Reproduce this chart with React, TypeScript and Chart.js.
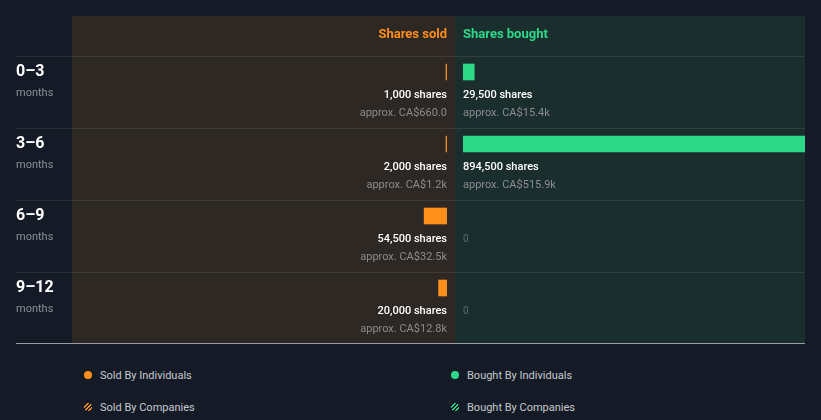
import React, { useEffect, useRef } from "react";
import { Chart, registerables } from "chart.js";

Chart.register(...registerables);

// ---- data ----
const periods = ["0–3", "3–6", "6–9", "9–12"];
const periodUnit = "months";
const soldShares = [1000, 2000, 54500, 20000];
const soldValueLabels = ["CA$660.0", "CA$1.2k", "CA$32.5k", "CA$12.8k"];
const boughtShares = [29500, 894500, 0, 0];
const boughtValueLabels = ["CA$15.4k", "CA$515.9k", "", ""];
const scaleMax = 894500;
const legendLabels = ["Sold By Individuals", "Bought By Individuals", "Sold By Companies", "Bought By Companies"];

// ---- style ----
const ORANGE = "#ff8f1a";
const GREEN = "#2ed889";
const PAGE_BG = "#151b26";
const SOLD_BG = "#2d2823";
const BOUGHT_BG = "#1b2e2e";
const FONT = "Roboto, 'Noto Sans', sans-serif";
const BAR_H = 16;

type Side = "sold" | "bought";

const panelPlugin = {
  id: "panel",
  beforeDraw(chart: any) {
    const opts = chart.options.plugins.panel;
    const side: Side = opts.side;
    const { ctx, chartArea, scales } = chart;
    ctx.save();
    const x0 = side === "sold" ? chartArea.left : 0;
    ctx.fillStyle = side === "sold" ? SOLD_BG : BOUGHT_BG;
    ctx.fillRect(x0, 0, chart.width - x0, chart.height);
    // row separators
    ctx.fillStyle = "rgba(255,255,255,0.09)";
    periods.forEach((_, i) => {
      const y = Math.round(scales.y.getPixelForValue(i) - BAR_H);
      ctx.fillRect(0, y, chart.width, 1);
    });
    // header
    const zeroX = scales.x.getPixelForValue(0);
    ctx.font = `bold 13px ${FONT}`;
    ctx.textBaseline = "middle";
    ctx.textAlign = side === "sold" ? "right" : "left";
    ctx.fillStyle = side === "sold" ? ORANGE : GREEN;
    ctx.fillText(opts.title, zeroX, 19);
    // row labels
    if (side === "sold") {
      ctx.textAlign = "left";
      periods.forEach((p, i) => {
        const cy = scales.y.getPixelForValue(i);
        ctx.font = `bold 16px ${FONT}`;
        ctx.fillStyle = "#ffffff";
        ctx.fillText(p, 0, cy);
        ctx.font = `11px ${FONT}`;
        ctx.fillStyle = "#8b9098";
        ctx.fillText(periodUnit, 0, cy + 21);
      });
    }
    ctx.restore();
  },
  afterDatasetsDraw(chart: any) {
    const opts = chart.options.plugins.panel;
    const side: Side = opts.side;
    const { ctx, scales } = chart;
    const values: number[] = opts.values;
    const labels: string[] = opts.valueLabels;
    const zeroX = scales.x.getPixelForValue(0);
    ctx.save();
    ctx.textBaseline = "middle";
    ctx.textAlign = side === "sold" ? "right" : "left";
    values.forEach((v, i) => {
      const cy = scales.y.getPixelForValue(i);
      if (v === 0) {
        ctx.font = `10px ${FONT}`;
        ctx.fillStyle = "#5d6b6b";
        ctx.fillText("0", zeroX, cy + 23);
        return;
      }
      ctx.font = `500 11px ${FONT}`;
      ctx.fillStyle = "#ffffff";
      ctx.fillText(`${v.toLocaleString("en-US")} shares`, zeroX, cy + 23);
      ctx.font = `11px ${FONT}`;
      ctx.fillStyle = "#8a8d90";
      ctx.fillText(`approx. ${labels[i]}`, zeroX, cy + 41);
    });
    ctx.restore();
  },
};

function HalfChart(props: {
  side: Side;
  width: number;
  height: number;
  left: number;
  values: number[];
  valueLabels: string[];
  title: string;
  color: string;
  padding: { left: number; right: number; top: number; bottom: number };
}) {
  const ref = useRef<HTMLCanvasElement>(null);
  useEffect(() => {
    if (!ref.current) return;
    const chart = new Chart(ref.current, {
      type: "bar",
      data: {
        labels: periods,
        datasets: [
          {
            label: props.title,
            data: props.values.map((v) => (v === 0 ? null : v)),
            backgroundColor: props.color,
            borderWidth: 0,
            barThickness: BAR_H,
            minBarLength: props.side === "sold" ? 1 : 0,
          },
        ],
      },
      options: {
        indexAxis: "y",
        responsive: false,
        animation: false,
        events: [],
        layout: { padding: props.padding },
        scales: {
          x: { type: "linear", min: 0, max: scaleMax, reverse: props.side === "sold", display: false },
          y: { type: "category", display: false, offset: true },
        },
        plugins: {
          legend: { display: false },
          tooltip: { enabled: false },
          panel: { side: props.side, title: props.title, values: props.values, valueLabels: props.valueLabels },
        } as any,
      },
      plugins: [panelPlugin],
    });
    return () => chart.destroy();
  }, []);
  return (
    <canvas
      ref={ref}
      width={props.width}
      height={props.height}
      style={{ position: "absolute", left: props.left, top: 16, width: props.width, height: props.height }}
    />
  );
}

function LegendItem(props: { label: string; color: string; hatched: boolean; x: number; y: number }) {
  const dot: React.CSSProperties = props.hatched
    ? {
        background: `repeating-linear-gradient(135deg, ${props.color} 0px, ${props.color} 1.3px, transparent 1.3px, transparent 2.8px)`,
      }
    : { background: props.color };
  return (
    <div
      style={{
        position: "absolute",
        left: props.x,
        top: props.y - 8,
        height: 16,
        display: "flex",
        alignItems: "center",
        fontFamily: FONT,
        fontSize: 11,
        color: "#c6c9ce",
        whiteSpace: "nowrap",
      }}
    >
      <span style={{ display: "inline-block", width: 8, height: 8, borderRadius: "50%", marginRight: 8, ...dot }} />
      {props.label}
    </div>
  );
}

export default function App() {
  return (
    <div
      style={{
        position: "absolute",
        left: 0,
        top: 0,
        width: 821,
        height: 420,
        background: PAGE_BG,
        overflow: "hidden",
      }}
    >
      <HalfChart
        side="sold"
        left={16}
        width={439}
        height={327}
        values={soldShares}
        valueLabels={soldValueLabels}
        title="Shares sold"
        color={ORANGE}
        padding={{ left: 56, right: 8, top: 20, bottom: 19 }}
      />
      <HalfChart
        side="bought"
        left={455}
        width={350}
        height={327}
        values={boughtShares}
        valueLabels={boughtValueLabels}
        title="Shares bought"
        color={GREEN}
        padding={{ left: 8, right: 0, top: 20, bottom: 19 }}
      />
      <div style={{ position: "absolute", left: 16, top: 343, width: 789, height: 1, background: "#9a9ea4" }} />
      <LegendItem label={legendLabels[0]} color={ORANGE} hatched={false} x={84} y={375} />
      <LegendItem label={legendLabels[1]} color={GREEN} hatched={false} x={451} y={375} />
      <LegendItem label={legendLabels[2]} color={ORANGE} hatched={true} x={84} y={407} />
      <LegendItem label={legendLabels[3]} color={GREEN} hatched={true} x={451} y={407} />
    </div>
  );
}
